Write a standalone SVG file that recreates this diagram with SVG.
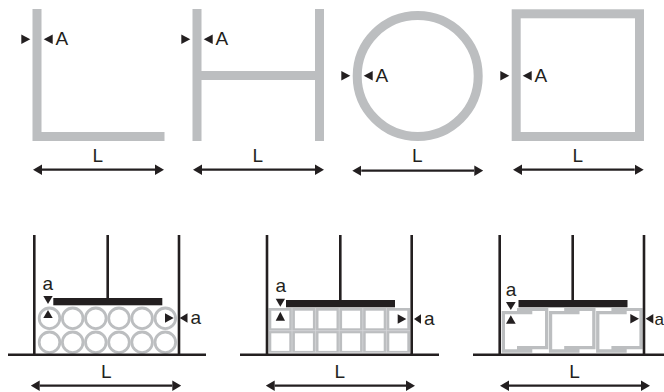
<svg xmlns="http://www.w3.org/2000/svg" width="664" height="392" viewBox="0 0 664 392">
<style>
text{font-family:"Liberation Sans",Arial,sans-serif;font-size:19px;fill:#231f20}
.sm{font-size:17px}
.g{fill:none;stroke:#bcbec0;stroke-width:9}
.gf{fill:#bcbec0}
.c{fill:#fff;stroke:#bcbec0;stroke-width:2.8}
.k{fill:#231f20}
.w{stroke:#231f20;stroke-width:2.6;fill:none}
.d{stroke:#231f20;stroke-width:2.2;fill:none;marker-start:url(#ah);marker-end:url(#ah)}
.s{fill:#fff}
.sep{stroke:#d6d7d9;stroke-width:.8;fill:none}
</style>
<defs>
<marker id="ah" markerUnits="userSpaceOnUse" markerWidth="9" markerHeight="11" refX="0" refY="5.5" orient="auto-start-reverse"><path d="M0,.3 L9,5.5 L0,10.7 z" fill="#231f20"/></marker>
<path id="box" class="gf" d="M501.7,311H517V308H548.3V349.3H532.3V352.7H501.7z M505,314.3V349.3H517V346H545V311H532.3V314.3z" fill-rule="evenodd"/>
<circle id="ci" class="c" r="10.3"/>
<rect id="sq" class="s" width="18" height="17.6"/>
</defs>

<g id="section-L">
<path class="g" d="M37,9V136.5H164.5"/>
<polygon class="k" points="21.3,34.6 30.3,39.3 21.3,44"/><polygon class="k" points="52.7,34.6 43.7,39.3 52.7,44"/>
<text x="55.6" y="45.3">A</text>
<text x="92.6" y="161.8">L</text>
</g>
<g id="section-H">
<path class="g" d="M197,9V141M319.5,9V141M197,75.5H319.5"/>
<polygon class="k" points="181.3,34.6 190.3,39.3 181.3,44"/><polygon class="k" points="212.7,34.6 203.7,39.3 212.7,44"/>
<text x="215.6" y="45.3">A</text>
<text x="252.6" y="161.8">L</text>
</g>
<g id="section-O">
<circle class="g" cx="417.7" cy="76" r="60.5"/>
<polygon class="k" points="341.3,71 350.3,75.7 341.3,80.4"/><polygon class="k" points="372.7,71 363.7,75.7 372.7,80.4"/>
<text x="375.6" y="81.7">A</text>
<text x="412" y="162">L</text>
</g>
<g id="section-square">
<rect class="g" x="516.2" y="13.8" width="123.3" height="122.7"/>
<polygon class="k" points="500.3,71 509.3,75.7 500.3,80.4"/><polygon class="k" points="531.7,71 522.7,75.7 531.7,80.4"/>
<text x="534.6" y="81.7">A</text>
<text x="572.6" y="161.8">L</text>
</g>

<g id="press-circles">
<g>
<use href="#ci" x="49.5" y="318.3"/><use href="#ci" x="72.7" y="318.3"/><use href="#ci" x="95.8" y="318.3"/><use href="#ci" x="119" y="318.3"/><use href="#ci" x="142.1" y="318.3"/><use href="#ci" x="165.3" y="318.3"/>
<use href="#ci" x="49.5" y="342.3"/><use href="#ci" x="72.7" y="342.3"/><use href="#ci" x="95.8" y="342.3"/><use href="#ci" x="119" y="342.3"/><use href="#ci" x="142.1" y="342.3"/><use href="#ci" x="165.3" y="342.3"/>
</g>
<path class="w" d="M34.3,235V354M179,235V354M107.7,235V298M8,354.7H206"/>
<rect class="k" x="53.3" y="298" width="109" height="7.3"/>
<polygon class="k" points="43.3,296 52.7,296 48,304"/><polygon class="k" points="43.3,318 52.7,318 48,310"/>
<polygon class="k" points="165,313.3 173.7,318 165,322.7"/><polygon class="k" points="187.5,313.3 179.7,318 187.5,322.7"/>
<text x="42.4" y="290">a</text><text x="190.4" y="324">a</text>
<text x="101" y="377.7">L</text>
</g>

<g id="press-squares">
<rect class="gf" x="268.5" y="308" width="141.5" height="44.7"/>
<path class="sep" d="M292,308V352.7M315.6,308V352.7M339.2,308V352.7M362.8,308V352.7M386.4,308V352.7M268.5,330.7H410"/>
<use href="#sq" x="271.3" y="310.7"/><use href="#sq" x="294.9" y="310.7"/><use href="#sq" x="318.5" y="310.7"/><use href="#sq" x="342.1" y="310.7"/><use href="#sq" x="365.7" y="310.7"/><use href="#sq" x="389.3" y="310.7"/>
<use href="#sq" x="271.3" y="333.3"/><use href="#sq" x="294.9" y="333.3"/><use href="#sq" x="318.5" y="333.3"/><use href="#sq" x="342.1" y="333.3"/><use href="#sq" x="365.7" y="333.3"/><use href="#sq" x="389.3" y="333.3"/>
<path class="w" d="M267,235V354M411.7,235V354M340.3,235V300M240,354.7H439"/>
<rect class="k" x="286" y="300" width="109" height="7.3"/>
<polygon class="k" points="275.7,298.7 285,298.7 280.3,306.7"/><polygon class="k" points="275.7,320.7 285,320.7 280.3,311.7"/>
<polygon class="k" points="397.7,314.3 406.3,319 397.7,323.7"/><polygon class="k" points="421,314.3 414,319 421,323.7"/>
<text x="275.4" y="292.3">a</text><text x="424" y="324.7">a</text>
<text x="334.6" y="378.3">L</text>
</g>

<g id="press-channels">
<use href="#box"/><use href="#box" x="47.2"/><use href="#box" x="94.4"/>
<path class="w" d="M499.7,235V354M644,235V354M572.7,235V300M473,354.7H664"/>
<rect class="k" x="518.5" y="300" width="109" height="7.3"/>
<polygon class="k" points="506,302 515.7,302 510.8,310"/><polygon class="k" points="506,323.7 515.7,323.7 510.8,315.3"/>
<polygon class="k" points="630.3,314 639,318.7 630.3,323.4"/><polygon class="k" points="653.3,314 645.7,318.7 653.3,323.4"/>
<text x="505.7" y="296.3">a</text><text class="sm" x="654.4" y="324.7">a</text>
<text x="569.3" y="377.7">L</text>
</g>

<g id="connectors">
<path class="d" d="M42,169.7H155"/>
<path class="d" d="M202,169.7H315"/>
<path class="d" d="M361.3,170.7H474.3"/>
<path class="d" d="M522,169.7H634.7"/>
<path class="d" d="M39.7,385.7H172.3"/>
<path class="d" d="M274.7,385.7H406"/>
<path class="d" d="M509,385.7H641"/>
</g>
</svg>
